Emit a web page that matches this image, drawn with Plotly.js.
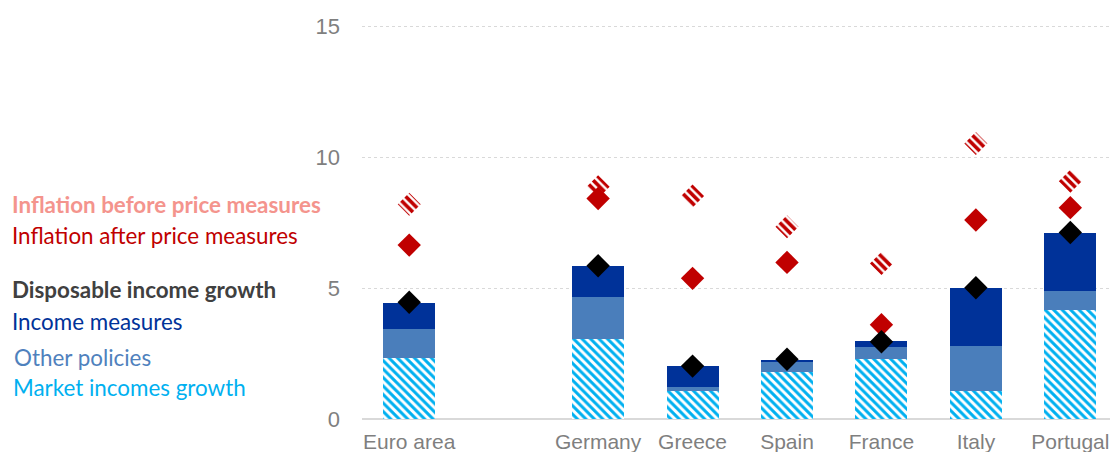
<!DOCTYPE html>
<html>
<head>
<meta charset="utf-8">
<script src="https://cdn.plot.ly/plotly-3.0.1.min.js"></script>
<style>html,body{margin:0;padding:0;background:#fff;}#chart{width:1110px;height:452px;}</style>
</head>
<body>
<div id="chart"></div>
<script>
// ---- data ----
var categories = ['Euro area', '', 'Germany', 'Greece', 'Spain', 'France', 'Italy', 'Portugal'];
var countries = ['Euro area', 'Germany', 'Greece', 'Spain', 'France', 'Italy', 'Portugal'];
var marketIncomes = [2.33, 3.05, 1.08, 1.79, 2.30, 1.07, 4.16];
var otherPolicies = [1.11, 1.62, 0.14, 0.37, 0.46, 1.72, 0.73];
var incomeMeasures = [1.00, 1.18, 0.79, 0.09, 0.21, 2.22, 2.22];
var disposableIncome = [4.46, 5.85, 2.02, 2.28, 2.95, 5.01, 7.12];
var inflationAfter = [6.64, 8.42, 5.37, 5.98, 3.60, 7.60, 8.07];
var inflationBefore = [8.20, 8.87, 8.52, 7.34, 5.94, 10.52, 9.08];
var yTicks = [0, 5, 10, 15];

// ---- layout geometry ----
var W = 1110, H = 452;
var mL = 362, mR = 0, mT = 0, mB = 33;
var xRange = [-0.5, 7.42], yRange = [0, 16];
var plotW = W - mL - mR, plotH = H - mT - mB;
var pxPerX = plotW / (xRange[1] - xRange[0]);
var pxPerY = plotH / (yRange[1] - yRange[0]);

var xs = countries.map(function (c) { return categories.indexOf(c); });

var RED = '#c00000', NAVY = '#003299', MID = '#4a7ebb', CYAN = '#00b0f0';

var traces = [];
traces.push({
  type: 'bar', x: xs, y: marketIncomes, width: 0.55,
  marker: { color: 'white', line: { width: 0 },
    pattern: { shape: '\\', fgcolor: CYAN, bgcolor: 'white', size: 6, solidity: 0.5 } },
  hoverinfo: 'skip'
});
traces.push({
  type: 'bar', x: xs, y: otherPolicies, width: 0.55,
  marker: { color: MID, line: { width: 0 } }, hoverinfo: 'skip'
});
traces.push({
  type: 'bar', x: xs, y: incomeMeasures, width: 0.55,
  marker: { color: NAVY, line: { width: 0 } }, hoverinfo: 'skip'
});

// hatched diamonds for inflation before price measures
var halfPx = 11.5;
var dx = halfPx / pxPerX, dy = halfPx / pxPerY;
xs.forEach(function (xv, i) {
  var yv = inflationBefore[i];
  traces.push({
    type: 'scatter', mode: 'lines',
    x: [xv, xv + dx, xv, xv - dx, xv],
    y: [yv + dy, yv, yv - dy, yv, yv + dy],
    fill: 'toself',
    fillcolor: 'white',
    fillpattern: { shape: '\\', fgcolor: RED, bgcolor: 'rgba(255,255,255,0)', size: 6, solidity: 0.6 },
    line: { width: 0, color: 'rgba(0,0,0,0)' },
    hoverinfo: 'skip'
  });
});

traces.push({
  type: 'scatter', mode: 'markers', x: xs, y: inflationAfter,
  marker: { symbol: 'diamond', size: 18, color: RED, line: { width: 0 } }, hoverinfo: 'skip'
});
traces.push({
  type: 'scatter', mode: 'markers', x: xs, y: disposableIncome,
  marker: { symbol: 'diamond', size: 18, color: '#000000', line: { width: 0 } }, hoverinfo: 'skip'
});

function px2paperX(px) { return (px - mL) / plotW; }
function py2paperY(py) { return (H - mB - py) / plotH; }

var legendFont = 'Lato, "Open Sans", sans-serif';
var legendItems = [
  { text: '<b>Inflation before price measures</b>', color: '#f4948d', x: 10, y: 204 },
  { text: 'Inflation after price measures', color: RED, x: 10, y: 236 },
  { text: '<b>Disposable income growth</b>', color: '#404040', x: 10, y: 289 },
  { text: 'Income measures', color: NAVY, x: 10, y: 321 },
  { text: 'Other policies', color: '#4f81bd', x: 12, y: 357 },
  { text: 'Market incomes growth', color: CYAN, x: 11, y: 387 }
];
var annotations = legendItems.map(function (it) {
  return {
    xref: 'paper', yref: 'paper', x: px2paperX(it.x), y: py2paperY(it.y),
    xanchor: 'left', yanchor: 'middle', showarrow: false, text: it.text,
    font: { family: legendFont, size: 22.4, color: it.color }
  };
});

var layout = {
  width: W, height: H,
  margin: { l: mL, r: mR, t: mT, b: mB, pad: 0 },
  paper_bgcolor: 'white', plot_bgcolor: 'white',
  barmode: 'stack', bargap: 0.45,
  showlegend: false,
  font: { family: '"Liberation Sans", Arial, sans-serif', color: '#7f7f7f' },
  xaxis: {
    range: xRange, tickmode: 'array', tickvals: categories.map(function (c, i) { return i; }),
    ticktext: categories, showgrid: false, zeroline: false, showline: false, ticks: '',
    ticklabelstandoff: 8,
    tickfont: { size: 21, color: '#7f7f7f' }, fixedrange: true
  },
  yaxis: {
    range: yRange, tickmode: 'array', tickvals: yTicks, ticktext: yTicks.map(String),
    showgrid: true, gridcolor: '#d9d9d9', gridwidth: 1, griddash: '3px,3px',
    zeroline: true, zerolinecolor: '#d9d9d9', zerolinewidth: 2,
    showline: false, ticks: '', ticklabelstandoff: 21,
    tickfont: { size: 22, color: '#7f7f7f' }, fixedrange: true
  },
  annotations: annotations
};

Plotly.newPlot('chart', traces, layout, { displayModeBar: false, staticPlot: true });
</script>
</body>
</html>
